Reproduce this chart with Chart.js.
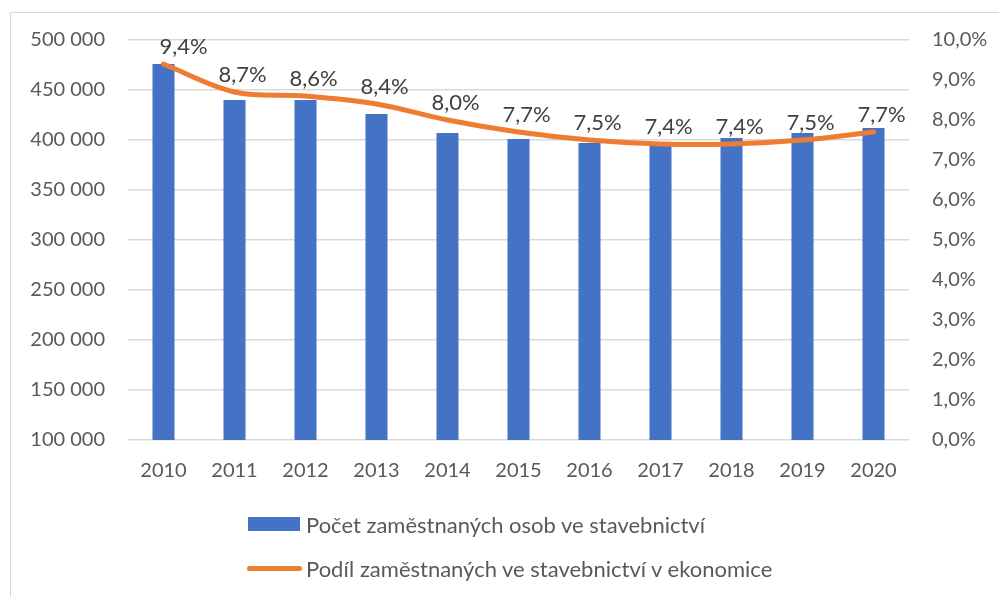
<!DOCTYPE html>
<html>
<head>
<meta charset="utf-8">
<script src="https://cdn.jsdelivr.net/npm/chart.js@4"></script>
<style>
  html, body { margin: 0; padding: 0; background: #fff; }
  #wrap { position: relative; width: 999px; height: 597px; overflow: hidden; font-family: Lato, "Noto Sans", sans-serif; }
  #frame { position: absolute; left: 10px; top: 12px; width: 1000px; height: 600px; border-left: 1px solid #d9d9d9; border-top: 1px solid #d9d9d9; }
  #chart { position: absolute; left: 0; top: 0; }
  #legend { position: absolute; left: 247px; top: 511px; color: #595959; font-size: 22px; }
  .item { display: flex; align-items: center; height: 26px; margin-bottom: 18px; white-space: nowrap; }
  .box { width: 52px; height: 14px; background: #4472C4; margin-left: 1px; margin-right: 6px; }
  .line { width: 55px; height: 5px; border-radius: 3px; background: #ED7D31; margin-right: 4px; }
</style>
</head>
<body>
<div id="wrap">
  <div id="frame"></div>
  <canvas id="chart" width="999" height="597"></canvas>
  <div id="legend"></div>
</div>
<script>
const years = ["2010", "2011", "2012", "2013", "2014", "2015", "2016", "2017", "2018", "2019", "2020"];
const employed = [476000, 440000, 440000, 426000, 407000, 401000, 397000, 395000, 402000, 407000, 412000];
const share = [9.4, 8.7, 8.6, 8.4, 8.0, 7.7, 7.5, 7.4, 7.4, 7.5, 7.7];
const barLabel = "Počet zaměstnaných osob ve stavebnictví";
const lineLabel = "Podíl zaměstnaných ve stavebnictví v ekonomice";

const blue = "#4472C4";
const orange = "#ED7D31";
const textColor = "#595959";
const font = "Lato, 'Noto Sans', sans-serif";

const fmtThousands = v => String(Math.round(v)).replace(/\B(?=(\d{3})+(?!\d))/g, " ");
const fmtPct = v => Number(v).toFixed(1).replace(".", ",") + "%";

// labels above the line points
const pointLabels = {
  id: "pointLabels",
  afterDatasetsDraw(chart) {
    const ctx = chart.ctx;
    const meta = chart.getDatasetMeta(1);
    ctx.save();
    ctx.font = "22px " + font;
    ctx.fillStyle = "#404040";
    ctx.textAlign = "center";
    ctx.textBaseline = "bottom";
    meta.data.forEach((pt, i) => {
      const dx = i === 0 ? 20 : 8;
      ctx.fillText(fmtPct(share[i]), pt.x + dx, pt.y - 6);
    });
    ctx.restore();
  }
};

new Chart(document.getElementById("chart"), {
  type: "bar",
  data: {
    labels: years,
    datasets: [
      {
        type: "bar",
        label: barLabel,
        data: employed,
        backgroundColor: blue,
        yAxisID: "y",
        barPercentage: 1,
        categoryPercentage: 0.31,
        order: 1
      },
      {
        type: "line",
        label: lineLabel,
        data: share,
        borderColor: orange,
        borderWidth: 5,
        borderCapStyle: "round",
        pointRadius: 0,
        tension: 0.35,
        yAxisID: "y1",
        order: 0
      }
    ]
  },
  options: {
    responsive: false,
    animation: false,
    layout: { padding: { top: 40, bottom: 107, left: 0, right: 0 } },
    plugins: {
      legend: { display: false },
      tooltip: { enabled: false }
    },
    scales: {
      x: {
        grid: { display: false, drawTicks: false },
        border: { display: false },
        ticks: { color: textColor, font: { family: font, size: 20 }, padding: 19 },
        afterFit: s => { s.height = 50; }
      },
      y: {
        position: "left",
        min: 100000,
        max: 500000,
        ticks: { stepSize: 50000, color: textColor, font: { family: font, size: 20 }, padding: 23, callback: v => fmtThousands(v) },
        grid: { color: "#d9d9d9", lineWidth: 1.5, drawTicks: false },
        border: { display: false },
        afterFit: s => { s.width = 128; }
      },
      y1: {
        position: "right",
        min: 0,
        max: 10,
        ticks: { stepSize: 1, color: textColor, font: { family: font, size: 20 }, padding: 23, callback: v => fmtPct(v) },
        grid: { display: false, drawTicks: false },
        border: { display: false },
        afterFit: s => { s.width = 90; }
      }
    }
  },
  plugins: [pointLabels]
});

document.getElementById("legend").innerHTML = `
  <div class="item"><span class="box"></span><span>${barLabel}</span></div>
  <div class="item"><span class="line"></span><span>${lineLabel}</span></div>
`;
</script>
</body>
</html>
